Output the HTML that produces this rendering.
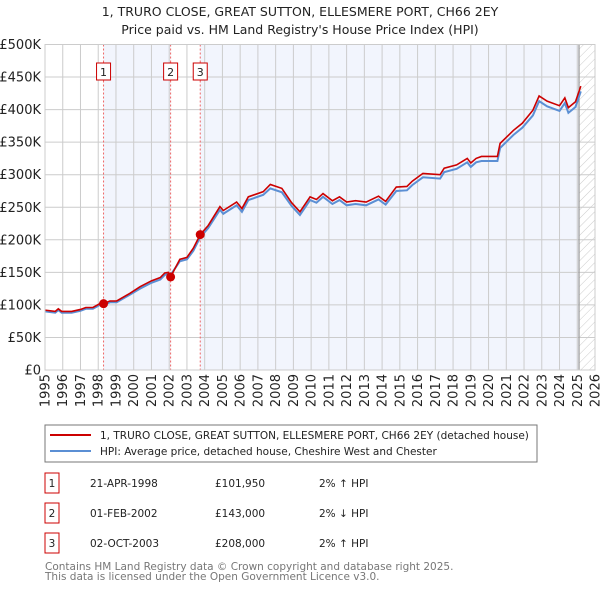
<!DOCTYPE html>
<html><head><meta charset="utf-8"><style>
body{margin:0;background:#fff;font-family:"DejaVu Sans","Liberation Sans",sans-serif;}
svg text{font-family:"DejaVu Sans","Liberation Sans",sans-serif;}
</style></head><body>
<svg id="c" width="600" height="590" xmlns="http://www.w3.org/2000/svg">
<defs><pattern id="h" width="6" height="6" patternUnits="userSpaceOnUse" patternTransform="rotate(45)"><line x1="0" y1="0" x2="0" y2="6" stroke="#ccc" stroke-width="1"/></pattern></defs>
<text x="300" y="16" text-anchor="middle" font-size="12.5" fill="#222">1, TRURO CLOSE, GREAT SUTTON, ELLESMERE PORT, CH66 2EY</text>
<text x="300" y="34" text-anchor="middle" font-size="12.5" fill="#222">Price paid vs. HM Land Registry's House Price Index (HPI)</text>
<g id="plot"></g>
<rect x="45" y="425" width="492" height="37" fill="#fff" stroke="#777"/>
<line x1="50" y1="435" x2="91" y2="435" stroke="#cc0000" stroke-width="2"/>
<text x="100" y="439" font-size="10.5" fill="#222">1, TRURO CLOSE, GREAT SUTTON, ELLESMERE PORT, CH66 2EY (detached house)</text>
<line x1="50" y1="451" x2="91" y2="451" stroke="#5b8fd4" stroke-width="2"/>
<text x="100" y="455" font-size="10.5" fill="#222">HPI: Average price, detached house, Cheshire West and Chester</text>
<g id="tbl" font-size="10.5" fill="#222"></g>
<text x="45" y="570" font-size="10.5" fill="#777">Contains HM Land Registry data © Crown copyright and database right 2025.</text>
<text x="45" y="580" font-size="10.5" fill="#777">This data is licensed under the Open Government Licence v3.0.</text>
</svg>
<script>
const years=[1995,1995.58,1995.75,1995.94,1996.5,1997,1997.3,1997.7,1998.1,1998.3,1998.66,1999.04,1999.8,2000.36,2001,2001.5,2001.75,2001.95,2002.08,2002.6,2003,2003.36,2003.75,2004.2,2004.86,2005.05,2005.8,2006.1,2006.46,2007.3,2007.7,2008.35,2008.9,2009.37,2009.94,2010.3,2010.67,2011.2,2011.6,2012,2012.5,2013.1,2013.8,2014.2,2014.8,2015.4,2015.7,2016.3,2017.27,2017.5,2018.2,2018.8,2019,2019.3,2019.6,2020.5,2020.65,2021.4,2021.9,2022.5,2022.85,2023.3,2024,2024.3,2024.5,2024.9,2025.2];
const priceK=[92,90,94,90,90,93,96,96,102,102,106,106,118,128,137,142,149,150,143,170,173,187,208,222,251,245,258,248,266,274,285,279,257,243,266,262,271,260,266,258,260,258,267,259,281,282,290,302,300,310,315,325,318,325,328,328,348,368,379,399,421,413,406,418,403,412,436];
const hpiK=[90,88,92,88,88,91,94,94,100,100,104,104,116,125,134,139,146,148,146,167,170,183,204,218,246,240,253,243,261,269,279,273,252,238,261,257,266,255,261,253,255,253,262,254,275,276,284,296,294,304,309,319,312,319,321,321,341,361,372,391,413,405,398,410,395,404,428];
const yTicks=[0,50,100,150,200,250,300,350,400,450,500];
const yTickLabels=["£0","£50K","£100K","£150K","£200K","£250K","£300K","£350K","£400K","£450K","£500K"];
const xTicks=[1995,1996,1997,1998,1999,2000,2001,2002,2003,2004,2005,2006,2007,2008,2009,2010,2011,2012,2013,2014,2015,2016,2017,2018,2019,2020,2021,2022,2023,2024,2025,2026];
const saleYears=[1998.3,2002.08,2003.75];
const salePricesK=[101.95,143,208];
const saleLabels=["1","2","3"];
const saleDates=["21-APR-1998","01-FEB-2002","02-OCT-2003"];
const salePriceText=["£101,950","£143,000","£208,000"];
const saleHpiText=["2% ↑ HPI","2% ↓ HPI","2% ↑ HPI"];
const endYear=2025.1;
const L=45,R=595,T=44.5,B=370;
const X=y=>L+(y-1995)/(2026-1995)*(R-L);
const Y=v=>B-v/500*(B-T);
const NS="http://www.w3.org/2000/svg";
const g=document.getElementById('plot');
function mk(tag,attrs,parent){const e=document.createElementNS(NS,tag);for(const k in attrs)e.setAttribute(k,attrs[k]);(parent||g).appendChild(e);return e;}
let e;
e=mk('rect',{x:X(saleYears[0]),y:T,width:X(saleYears[1])-X(saleYears[0]),height:B-T,fill:'#f2f5fd'});


e=mk('rect',{x:X(saleYears[2]),y:T,width:X(endYear)-X(saleYears[2]),height:B-T,fill:'#f2f5fd'});


e=mk('rect',{x:X(endYear),y:T,width:R-X(endYear),height:B-T,fill:'url(#h)'});


yTicks.forEach((v,i)=>{
 e=mk('line',{x1:L,x2:R,y1:Y(v),y2:Y(v),stroke:'#ccc','stroke-width':1});
 
 
 e=mk('text',{x:L-4,y:Y(v)+4.5,'text-anchor':'end','font-size':13,fill:'#222'});
 e.textContent=yTickLabels[i];
 
 
});
xTicks.forEach(t=>{
 e=mk('line',{x1:X(t),x2:X(t),y1:T,y2:B,stroke:'#ccc','stroke-width':1});
 
 
 e=mk('text',{x:0,y:0,'text-anchor':'end','font-size':13,fill:'#222',transform:`translate(${X(t)+4.5},374) rotate(-90)`});
 e.textContent=t;
 
 
});
e=mk('line',{x1:X(endYear),x2:X(endYear),y1:T,y2:B,stroke:'#999','stroke-width':1.2});


saleYears.forEach((s,i)=>{
 e=mk('line',{x1:X(s),x2:X(s),y1:T,y2:B,stroke:'#e66','stroke-width':1,'stroke-dasharray':'2,2'});
 
 
 e=mk('rect',{x:X(s)-7,y:63,width:14,height:17,fill:'#fff',stroke:'#cc0000'});
 
 
 e=mk('text',{x:X(s),y:76,'text-anchor':'middle','font-size':11,fill:'#222'});
 e.textContent=saleLabels[i];
 
 
});
e=mk('polyline',{points:years.map((y,i)=>X(y)+','+Y(hpiK[i])).join(' '),fill:'none',stroke:'#5b8fd4','stroke-width':2});


e=mk('polyline',{points:years.map((y,i)=>X(y)+','+Y(priceK[i])).join(' '),fill:'none',stroke:'#cc0000','stroke-width':1.6});


saleYears.forEach((s,i)=>{
 e=mk('circle',{cx:X(s),cy:Y(salePricesK[i]),r:4.5,fill:'#cc0000'});
 
 
});
e=mk('rect',{x:L,y:T,width:R-L,height:B-T,fill:'none',stroke:'#ccc'});


const tb=document.getElementById('tbl');
saleLabels.forEach((lab,i)=>{
 const cy=483+i*30;
 e=mk('rect',{x:45,y:cy-10,width:14,height:20,fill:'#fff',stroke:'#cc0000'},tb);
 
 
 const cells=[[52,lab,'middle','table-marker'],[90,saleDates[i],'start','table-date'],[215,salePriceText[i],'start','table-price'],[319,saleHpiText[i],'start','table-hpi-change']];
 cells.forEach(c=>{
  e=mk('text',{x:c[0],y:cy+4,'text-anchor':c[2]},tb);
  e.textContent=c[1];
  
  
 });
});
</script>
</body></html>
